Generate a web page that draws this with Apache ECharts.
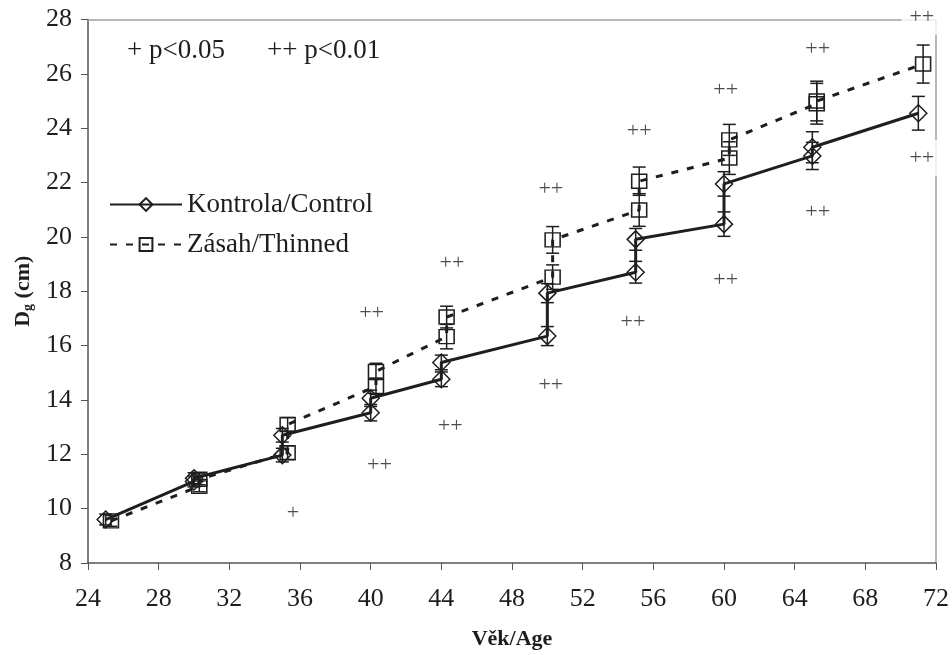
<!DOCTYPE html>
<html>
<head>
<meta charset="utf-8">
<script src="https://cdn.jsdelivr.net/npm/echarts@6/dist/echarts.min.js"></script>
<style>
html, body { margin: 0; padding: 0; background: #fff; }
#chart { width: 952px; height: 655px; }
</style>
</head>
<body>
<div id="chart"></div>
<script>
var FONT = '"Liberation Serif", "Times New Roman", serif';
var INK = '#1e1e1e';

// Kontrola/Control - two measurements at each age
var ctrlAge = [25, 30, 30, 35, 35, 40, 40, 44, 44, 50, 50, 55, 55, 60, 60, 65, 65, 71];
var ctrlDg  = [9.6, 11.0, 11.12, 11.97, 12.7, 13.53, 14.06, 14.76, 15.38, 16.35, 17.93, 18.7, 19.91, 20.47, 21.95, 22.98, 23.3, 24.55];
var ctrlErr = [0.2, 0.2, 0.2, 0.25, 0.25, 0.3, 0.3, 0.27, 0.27, 0.35, 0.35, 0.4, 0.4, 0.45, 0.45, 0.5, 0.57, 0.62];

// Zasah/Thinned
var thinAge = [25.3, 30.3, 30.3, 35.3, 35.3, 40.3, 40.3, 44.3, 44.3, 50.3, 50.3, 55.2, 55.2, 60.3, 60.3, 65.25, 65.25, 71.27];
var thinDg  = [9.55, 10.82, 11.08, 12.06, 13.1, 14.5, 15.05, 16.33, 17.05, 18.52, 19.89, 20.99, 22.05, 22.9, 23.57, 24.9, 25.0, 26.36];
var thinErr = [0.2, 0.2, 0.2, 0.25, 0.25, 0.3, 0.3, 0.45, 0.4, 0.45, 0.49, 0.6, 0.52, 0.6, 0.57, 0.75, 0.73, 0.7];

// significance marks
var markAge  = [35.6, 40.5, 40.05, 44.5, 44.6, 50.2, 50.2, 54.85, 55.2, 60.1, 60.1, 65.3, 65.3, 71.2, 71.2];
var markDg   = [9.85, 11.6, 17.19, 13.04, 19.03, 14.55, 21.75, 16.85, 23.9, 18.4, 25.38, 20.9, 26.9, 22.9, 28.1];
var markText = ['+', '++', '++', '++', '++', '++', '++', '++', '++', '++', '++', '++', '++', '++', '++'];

function zip3(a, b, c) {
	var out = [];
	for (var i = 0; i < a.length; i++) {
		out.push([a[i], b[i], c ? c[i] : 0]);
	}
	return out;
}

function errorBars(params, api) {
	var x = api.value(0), y = api.value(1), e = api.value(2);
	var hi = api.coord([x, y + e]);
	var lo = api.coord([x, y - e]);
	var cx = hi[0], w = 6.5;
	var st = { stroke: INK, lineWidth: 1.5 };
	return {
		type: 'group',
		children: [
			{ type: 'line', shape: { x1: cx, y1: hi[1], x2: cx, y2: lo[1] }, style: st },
			{ type: 'line', shape: { x1: cx - w, y1: hi[1], x2: cx + w, y2: hi[1] }, style: st },
			{ type: 'line', shape: { x1: cx - w, y1: lo[1], x2: cx + w, y2: lo[1] }, style: st }
		]
	};
}

var chart = echarts.init(document.getElementById('chart'));
var option = {
	backgroundColor: '#fff',
	animation: false,
	grid: { left: 88, right: 16, top: 19.5, bottom: 92 },
	legend: {
		data: ['Kontrola/Control', 'Zásah/Thinned'],
		orient: 'vertical',
		left: 104,
		top: 186,
		itemWidth: 72,
		itemHeight: 16,
		itemGap: 13,
		textStyle: { fontFamily: FONT, fontSize: 27, color: INK }
	},
	graphic: [
		{ type: 'text', left: 127, top: 37, style: { text: '+ p<0.05', font: '27px ' + FONT, fill: INK } },
		{ type: 'text', left: 267, top: 37, style: { text: '++ p<0.01', font: '27px ' + FONT, fill: INK } }
	],
	xAxis: [{
		type: 'value',
		min: 24,
		max: 72,
		interval: 4,
		name: 'Věk/Age',
		nameLocation: 'middle',
		nameGap: 65,
		nameTextStyle: { fontFamily: FONT, fontSize: 22, fontWeight: 'bold', color: INK },
		axisLine: { show: true, lineStyle: { color: '#555', width: 1.5 } },
		axisTick: { show: true, length: 7, lineStyle: { color: '#555' } },
		axisLabel: { margin: 23, fontFamily: FONT, fontSize: 26, color: INK },
		splitLine: { show: false }
	}, {
		type: 'value',
		position: 'top',
		min: 24,
		max: 72,
		axisLine: { show: true, lineStyle: { color: '#a0a0a0', width: 1.5 } },
		axisTick: { show: false },
		axisLabel: { show: false },
		splitLine: { show: false }
	}],
	yAxis: [{
		type: 'value',
		min: 8,
		max: 28,
		interval: 2,
		name: '{b|D}{s|g}{b| (cm)}',
		nameLocation: 'middle',
		nameRotate: 90,
		nameGap: 50,
		nameTextStyle: {
			rich: {
				b: { fontFamily: FONT, fontSize: 22, fontWeight: 'bold', color: INK },
				s: { fontFamily: FONT, fontSize: 14, fontWeight: 'bold', color: INK, verticalAlign: 'bottom', padding: [10, 0, 0, 0] }
			}
		},
		axisLine: { show: true, lineStyle: { color: '#555', width: 1.5 } },
		axisTick: { show: true, length: 7, lineStyle: { color: '#555' } },
		axisLabel: { margin: 16, fontFamily: FONT, fontSize: 26, color: INK },
		splitLine: { show: false }
	}, {
		type: 'value',
		position: 'right',
		min: 8,
		max: 28,
		axisLine: { show: true, lineStyle: { color: '#a0a0a0', width: 1.5 } },
		axisTick: { show: false },
		axisLabel: { show: false },
		splitLine: { show: false }
	}],
	series: [
		{
			name: 'err-ctrl',
			type: 'custom',
			renderItem: errorBars,
			data: zip3(ctrlAge, ctrlDg, ctrlErr),
			z: 3,
			silent: true
		},
		{
			name: 'err-thin',
			type: 'custom',
			renderItem: errorBars,
			data: zip3(thinAge, thinDg, thinErr),
			z: 3,
			silent: true
		},
		{
			name: 'Kontrola/Control',
			type: 'line',
			data: zip3(ctrlAge, ctrlDg),
			symbol: 'diamond',
			symbolSize: [17, 17],
			showAllSymbol: true,
			lineStyle: { color: INK, width: 3, type: 'solid' },
			itemStyle: { color: 'rgba(255,255,255,0)', borderColor: INK, borderWidth: 1.5 },
			z: 4
		},
		{
			name: 'Zásah/Thinned',
			type: 'line',
			data: zip3(thinAge, thinDg),
			symbol: 'rect',
			symbolSize: [15, 14],
			showAllSymbol: true,
			lineStyle: { color: INK, width: 3, type: [7, 9] },
			itemStyle: { color: 'rgba(255,255,255,0)', borderColor: INK, borderWidth: 1.5 },
			z: 4
		},
		{
			name: 'marks',
			type: 'scatter',
			data: zip3(markAge, markDg, markText),
			symbolSize: 1,
			itemStyle: { color: 'rgba(0,0,0,0)' },
			clip: false,
			silent: true,
			z: 5,
			label: {
				show: true,
				position: 'inside',
				formatter: function (p) { return p.value[2]; },
				fontFamily: FONT,
				fontSize: 22,
				color: '#222',
				backgroundColor: '#fff',
				padding: [7, 8, 7, 8]
			}
		}
	]
};
chart.setOption(option);
</script>
</body>
</html>
